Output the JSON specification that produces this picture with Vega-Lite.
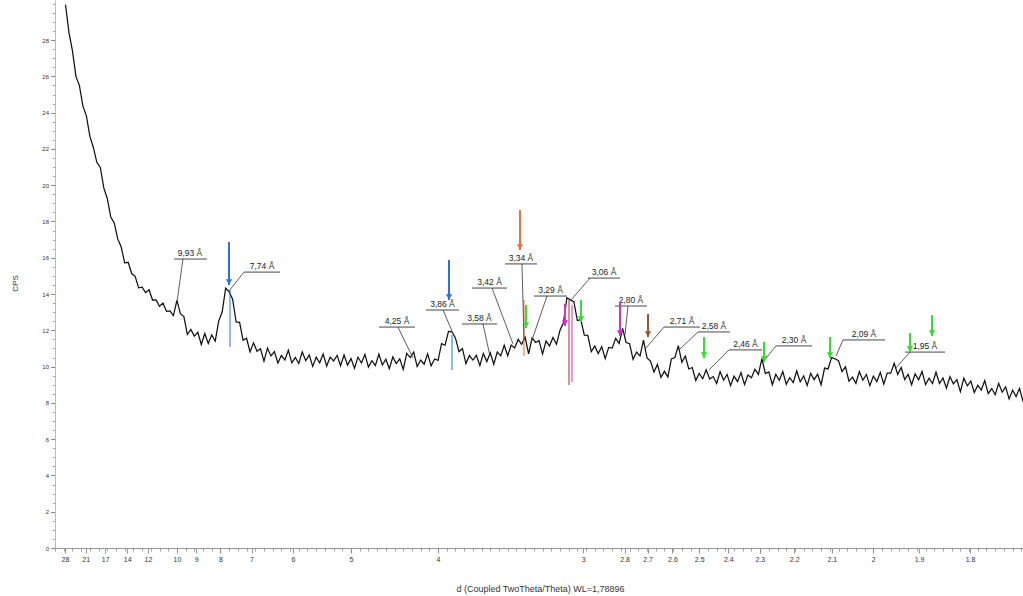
{
  "$schema": "https://vega.github.io/schema/vega-lite/v6.json",
  "autosize": "none",
  "width": 968,
  "height": 548,
  "padding": {"left": 55, "top": 0, "right": 0, "bottom": 48},
  "background": "white",
  "config": {"view": {"stroke": null}, "font": "Liberation Sans"},
  "datasets": {
    "curve": [
      {"q":0.036,"cps":29.95},{"q":0.038,"cps":28.41},{"q":0.040,"cps":27.41},{"q":0.042,"cps":26.00},{"q":0.044,"cps":25.49},
      {"q":0.046,"cps":24.36},{"q":0.048,"cps":23.82},{"q":0.050,"cps":22.69},{"q":0.052,"cps":22.08},{"q":0.054,"cps":21.26},
      {"q":0.056,"cps":20.98},{"q":0.058,"cps":19.85},{"q":0.060,"cps":19.27},{"q":0.062,"cps":18.24},{"q":0.064,"cps":17.92},
      {"q":0.066,"cps":17.04},{"q":0.068,"cps":16.59},{"q":0.070,"cps":15.72},{"q":0.072,"cps":15.75},{"q":0.074,"cps":15.13},
      {"q":0.076,"cps":14.98},{"q":0.078,"cps":14.34},{"q":0.080,"cps":14.38},{"q":0.082,"cps":14.08},{"q":0.084,"cps":14.24},
      {"q":0.086,"cps":13.67},{"q":0.088,"cps":13.68},{"q":0.090,"cps":13.33},{"q":0.092,"cps":13.50},{"q":0.094,"cps":13.05},
      {"q":0.096,"cps":13.07},{"q":0.098,"cps":12.81},{"q":0.100,"cps":13.65},{"q":0.102,"cps":12.92},{"q":0.104,"cps":12.76},
      {"q":0.106,"cps":11.77},{"q":0.108,"cps":12.05},{"q":0.110,"cps":11.68},{"q":0.112,"cps":11.89},{"q":0.114,"cps":11.22},
      {"q":0.116,"cps":11.82},{"q":0.118,"cps":11.27},{"q":0.120,"cps":11.75},{"q":0.122,"cps":11.40},{"q":0.124,"cps":12.51},
      {"q":0.126,"cps":13.02},{"q":0.128,"cps":14.33},{"q":0.130,"cps":14.12},{"q":0.132,"cps":13.72},{"q":0.134,"cps":12.46},
      {"q":0.136,"cps":12.44},{"q":0.138,"cps":11.45},{"q":0.140,"cps":11.56},{"q":0.142,"cps":10.81},{"q":0.144,"cps":11.31},
      {"q":0.146,"cps":10.84},{"q":0.148,"cps":10.98},{"q":0.150,"cps":10.30},{"q":0.152,"cps":11.02},{"q":0.154,"cps":10.59},
      {"q":0.156,"cps":10.83},{"q":0.158,"cps":10.20},{"q":0.160,"cps":10.61},{"q":0.162,"cps":10.37},{"q":0.164,"cps":10.90},
      {"q":0.166,"cps":10.21},{"q":0.168,"cps":10.50},{"q":0.170,"cps":10.17},{"q":0.172,"cps":10.81},{"q":0.174,"cps":10.33},
      {"q":0.176,"cps":10.64},{"q":0.178,"cps":10.01},{"q":0.180,"cps":10.52},{"q":0.182,"cps":10.21},{"q":0.184,"cps":10.70},
      {"q":0.186,"cps":10.03},{"q":0.188,"cps":10.52},{"q":0.190,"cps":10.31},{"q":0.192,"cps":10.62},{"q":0.194,"cps":10.05},
      {"q":0.196,"cps":10.64},{"q":0.198,"cps":10.08},{"q":0.200,"cps":10.44},{"q":0.202,"cps":9.91},{"q":0.204,"cps":10.52},
      {"q":0.206,"cps":10.20},{"q":0.208,"cps":10.67},{"q":0.210,"cps":9.97},{"q":0.212,"cps":10.33},{"q":0.214,"cps":10.06},
      {"q":0.216,"cps":10.69},{"q":0.218,"cps":10.09},{"q":0.220,"cps":10.41},{"q":0.222,"cps":9.88},{"q":0.224,"cps":10.53},
      {"q":0.226,"cps":10.17},{"q":0.228,"cps":10.43},{"q":0.230,"cps":9.85},{"q":0.232,"cps":10.73},{"q":0.234,"cps":10.50},
      {"q":0.236,"cps":10.80},{"q":0.238,"cps":10.00},{"q":0.240,"cps":10.36},{"q":0.242,"cps":10.13},{"q":0.244,"cps":10.70},
      {"q":0.246,"cps":10.04},{"q":0.248,"cps":10.42},{"q":0.250,"cps":10.34},{"q":0.252,"cps":11.27},{"q":0.254,"cps":11.18},
      {"q":0.256,"cps":11.94},{"q":0.258,"cps":11.92},{"q":0.260,"cps":11.57},{"q":0.262,"cps":10.83},{"q":0.264,"cps":10.99},
      {"q":0.266,"cps":10.17},{"q":0.268,"cps":10.61},{"q":0.270,"cps":10.36},{"q":0.272,"cps":10.62},{"q":0.274,"cps":10.06},
      {"q":0.276,"cps":10.72},{"q":0.278,"cps":10.28},{"q":0.280,"cps":10.76},{"q":0.282,"cps":10.13},{"q":0.284,"cps":10.80},
      {"q":0.286,"cps":10.59},{"q":0.288,"cps":11.18},{"q":0.290,"cps":10.60},{"q":0.292,"cps":11.19},{"q":0.294,"cps":11.03},
      {"q":0.296,"cps":11.50},{"q":0.298,"cps":11.23},{"q":0.300,"cps":11.62},{"q":0.302,"cps":10.70},{"q":0.304,"cps":11.58},
      {"q":0.306,"cps":11.33},{"q":0.308,"cps":11.43},{"q":0.310,"cps":10.69},{"q":0.312,"cps":11.41},{"q":0.314,"cps":11.14},
      {"q":0.316,"cps":11.61},{"q":0.318,"cps":11.23},{"q":0.320,"cps":11.99},{"q":0.322,"cps":12.42},{"q":0.324,"cps":13.80},
      {"q":0.326,"cps":13.68},{"q":0.328,"cps":13.58},{"q":0.330,"cps":12.54},{"q":0.332,"cps":12.59},{"q":0.334,"cps":11.73},
      {"q":0.336,"cps":11.72},{"q":0.338,"cps":10.83},{"q":0.340,"cps":11.13},{"q":0.342,"cps":10.72},{"q":0.344,"cps":11.10},
      {"q":0.346,"cps":10.44},{"q":0.348,"cps":11.06},{"q":0.350,"cps":11.02},{"q":0.352,"cps":11.56},{"q":0.354,"cps":11.28},
      {"q":0.356,"cps":12.10},{"q":0.358,"cps":11.33},{"q":0.360,"cps":11.26},{"q":0.362,"cps":10.40},{"q":0.364,"cps":10.80},
      {"q":0.366,"cps":10.59},{"q":0.368,"cps":11.46},{"q":0.370,"cps":10.48},{"q":0.372,"cps":10.30},{"q":0.374,"cps":9.70},
      {"q":0.376,"cps":10.12},{"q":0.378,"cps":9.41},{"q":0.380,"cps":9.74},{"q":0.382,"cps":9.43},{"q":0.384,"cps":10.42},
      {"q":0.386,"cps":10.50},{"q":0.388,"cps":11.15},{"q":0.390,"cps":10.24},{"q":0.392,"cps":10.58},{"q":0.394,"cps":9.87},
      {"q":0.396,"cps":9.95},{"q":0.398,"cps":9.24},{"q":0.400,"cps":9.62},{"q":0.402,"cps":9.33},{"q":0.404,"cps":9.83},
      {"q":0.406,"cps":9.31},{"q":0.408,"cps":9.45},{"q":0.410,"cps":9.07},{"q":0.412,"cps":9.72},{"q":0.414,"cps":9.25},
      {"q":0.416,"cps":9.57},{"q":0.418,"cps":8.95},{"q":0.420,"cps":9.47},{"q":0.422,"cps":9.17},{"q":0.424,"cps":9.67},
      {"q":0.426,"cps":9.01},{"q":0.428,"cps":9.54},{"q":0.430,"cps":9.39},{"q":0.432,"cps":9.85},{"q":0.434,"cps":9.57},
      {"q":0.436,"cps":10.44},{"q":0.438,"cps":9.62},{"q":0.440,"cps":9.71},{"q":0.442,"cps":9.00},{"q":0.444,"cps":9.58},
      {"q":0.446,"cps":9.25},{"q":0.448,"cps":9.73},{"q":0.450,"cps":9.02},{"q":0.452,"cps":9.39},{"q":0.454,"cps":9.12},
      {"q":0.456,"cps":9.76},{"q":0.458,"cps":9.16},{"q":0.460,"cps":9.49},{"q":0.462,"cps":8.96},{"q":0.464,"cps":9.63},
      {"q":0.466,"cps":9.28},{"q":0.468,"cps":9.58},{"q":0.470,"cps":9.00},{"q":0.472,"cps":9.92},{"q":0.474,"cps":9.87},
      {"q":0.476,"cps":10.50},{"q":0.478,"cps":10.43},{"q":0.480,"cps":10.33},{"q":0.482,"cps":9.72},{"q":0.484,"cps":9.99},
      {"q":0.486,"cps":9.20},{"q":0.488,"cps":9.42},{"q":0.490,"cps":9.08},{"q":0.492,"cps":9.72},{"q":0.494,"cps":9.25},
      {"q":0.496,"cps":9.57},{"q":0.498,"cps":8.95},{"q":0.500,"cps":9.47},{"q":0.502,"cps":9.17},{"q":0.504,"cps":9.68},
      {"q":0.506,"cps":9.04},{"q":0.508,"cps":9.64},{"q":0.510,"cps":9.64},{"q":0.512,"cps":10.18},{"q":0.514,"cps":9.57},
      {"q":0.516,"cps":9.95},{"q":0.518,"cps":9.29},{"q":0.520,"cps":9.57},{"q":0.522,"cps":9.00},{"q":0.524,"cps":9.60},
      {"q":0.526,"cps":9.27},{"q":0.528,"cps":9.73},{"q":0.530,"cps":9.01},{"q":0.532,"cps":9.36},{"q":0.534,"cps":9.07},
      {"q":0.536,"cps":9.69},{"q":0.538,"cps":9.07},{"q":0.540,"cps":9.37},{"q":0.542,"cps":8.81},{"q":0.544,"cps":9.44},
      {"q":0.546,"cps":9.05},{"q":0.548,"cps":9.28},{"q":0.550,"cps":8.62},{"q":0.552,"cps":9.36},{"q":0.554,"cps":8.94},
      {"q":0.556,"cps":9.20},{"q":0.558,"cps":8.57},{"q":0.560,"cps":8.97},{"q":0.562,"cps":8.71},{"q":0.564,"cps":9.23},
      {"q":0.566,"cps":8.52},{"q":0.568,"cps":8.79},{"q":0.570,"cps":8.45},{"q":0.572,"cps":9.08},{"q":0.574,"cps":8.59},
      {"q":0.576,"cps":8.88},{"q":0.578,"cps":8.22},{"q":0.580,"cps":8.70},{"q":0.582,"cps":8.35},{"q":0.584,"cps":8.80},
      {"q":0.586,"cps":8.07}
    ],
    "labels": [
      {"label":"9,93 Å","q":0.10751,"q_u1":0.09832,"q_u2":0.11727,"cps_u":15.93,"q_s":0.10349,"q_p":0.10004,"cps_p":13.56},
      {"label":"7,74 Å","q":0.14887,"q_u1":0.13853,"q_u2":0.15920,"cps_u":15.21,"q_s":0.13853,"q_p":0.12991,"cps_p":14.17},
      {"label":"4,25 Å","q":0.22641,"q_u1":0.21607,"q_u2":0.23675,"cps_u":12.18,"q_s":0.22698,"q_p":0.23560,"cps_p":10.47},
      {"label":"3,86 Å","q":0.25254,"q_u1":0.24306,"q_u2":0.26202,"cps_u":13.12,"q_s":0.25283,"q_p":0.25800,"cps_p":11.96},
      {"label":"3,58 Å","q":0.27379,"q_u1":0.26374,"q_u2":0.28385,"cps_u":12.35,"q_s":0.27580,"q_p":0.27982,"cps_p":10.58},
      {"label":"3,42 Å","q":0.27954,"q_u1":0.26949,"q_u2":0.28959,"cps_u":14.33,"q_s":0.28097,"q_p":0.29304,"cps_p":11.25},
      {"label":"3,34 Å","q":0.29763,"q_u1":0.28844,"q_u2":0.30682,"cps_u":15.66,"q_s":0.29820,"q_p":0.29935,"cps_p":11.47},
      {"label":"3,29 Å","q":0.31458,"q_u1":0.30510,"q_u2":0.32405,"cps_u":13.89,"q_s":0.31256,"q_p":0.30337,"cps_p":11.30},
      {"label":"3,06 Å","q":0.34531,"q_u1":0.33611,"q_u2":0.35449,"cps_u":14.88,"q_s":0.33726,"q_p":0.32635,"cps_p":13.67},
      {"label":"2,80 Å","q":0.36081,"q_u1":0.35162,"q_u2":0.37000,"cps_u":13.34,"q_s":0.35909,"q_p":0.35737,"cps_p":11.74},
      {"label":"2,71 Å","q":0.39011,"q_u1":0.37977,"q_u2":0.40044,"cps_u":12.18,"q_s":0.37977,"q_p":0.36943,"cps_p":11.03},
      {"label":"2,58 Å","q":0.40848,"q_u1":0.39930,"q_u2":0.41768,"cps_u":11.91,"q_s":0.39930,"q_p":0.38838,"cps_p":10.92},
      {"label":"2,46 Å","q":0.42658,"q_u1":0.41710,"q_u2":0.43606,"cps_u":10.92,"q_s":0.41710,"q_p":0.40561,"cps_p":9.81},
      {"label":"2,30 Å","q":0.45444,"q_u1":0.44410,"q_u2":0.46477,"cps_u":11.14,"q_s":0.44410,"q_p":0.43606,"cps_p":10.20},
      {"label":"2,09 Å","q":0.49464,"q_u1":0.48258,"q_u2":0.50671,"cps_u":11.47,"q_s":0.48258,"q_p":0.47856,"cps_p":10.58},
      {"label":"1,95 Å","q":0.52968,"q_u1":0.51819,"q_u2":0.54117,"cps_u":10.80,"q_s":0.52106,"q_p":0.51245,"cps_p":9.87}
    ],
    "arrows": [
      {"phase":"A","q":0.12991,"top":16.87,"tip":14.50},
      {"phase":"A","q":0.25628,"top":15.88,"tip":13.67},
      {"phase":"B","q":0.29706,"top":18.63,"tip":16.43},
      {"phase":"C","q":0.30050,"top":13.40,"tip":12.13},
      {"phase":"D","q":0.32290,"top":13.45,"tip":12.24},
      {"phase":"C","q":0.33209,"top":13.67,"tip":12.46},
      {"phase":"D","q":0.35449,"top":13.56,"tip":11.69},
      {"phase":"E","q":0.37058,"top":12.90,"tip":11.63},
      {"phase":"C","q":0.40274,"top":11.63,"tip":10.47},
      {"phase":"C","q":0.43720,"top":11.36,"tip":10.25},
      {"phase":"C","q":0.47511,"top":11.63,"tip":10.47},
      {"phase":"C","q":0.52106,"top":11.85,"tip":10.80},
      {"phase":"C","q":0.53370,"top":12.84,"tip":11.69}
    ],
    "sticks": [
      {"phase":"A","q":0.13049,"top":14.22,"bottom":11.08},
      {"phase":"A","q":0.25800,"top":11.74,"bottom":9.81},
      {"phase":"B","q":0.29935,"top":13.67,"bottom":10.58},
      {"phase":"F","q":0.32520,"top":13.67,"bottom":8.99},
      {"phase":"D","q":0.32692,"top":13.40,"bottom":9.15}
    ]
  },
  "layer": [
    {
      "data": {"name": "curve"},
      "mark": {"type": "line", "strokeOpacity": 0},
      "encoding": {
        "x": {"field": "q", "type": "quantitative",
          "scale": {"domain": [0.02997, 0.58597], "nice": false, "zero": false},
          "axis": {"orient": "bottom", "values": [0.03,0.035,0.04,0.045,0.05,0.055,0.06,0.065,0.07,0.075,0.08,0.085,0.09,0.095,0.1,0.105,0.11,0.115,0.12,0.125,0.13,0.135,0.14,0.145,0.15,0.155,0.16,0.165,0.17,0.175,0.18,0.185,0.19,0.195,0.2,0.205,0.21,0.215,0.22,0.225,0.23,0.235,0.24,0.245,0.25,0.255,0.26,0.265,0.27,0.275,0.28,0.285,0.29,0.295,0.3,0.305,0.31,0.315,0.32,0.325,0.33,0.335,0.34,0.345,0.35,0.355,0.36,0.365,0.37,0.375,0.38,0.385,0.39,0.395,0.4,0.405,0.41,0.415,0.42,0.425,0.43,0.435,0.44,0.445,0.45,0.455,0.46,0.465,0.47,0.475,0.48,0.485,0.49,0.495,0.5,0.505,0.51,0.515,0.52,0.525,0.53,0.535,0.54,0.545,0.55,0.555,0.56,0.565,0.57,0.575,0.58,0.585],
            "labels": false, "domain": false, "grid": false, "title": null, "tickSize": 3, "tickColor": "#888", "tickWidth": 0.8}},
        "y": {"field": "cps", "type": "quantitative",
          "scale": {"domain": [0, 30.21], "nice": false, "zero": false},
          "axis": {"orient": "left", "values": [0,0.5,1,1.5,2,2.5,3,3.5,4,4.5,5,5.5,6,6.5,7,7.5,8,8.5,9,9.5,10,10.5,11,11.5,12,12.5,13,13.5,14,14.5,15,15.5,16,16.5,17,17.5,18,18.5,19,19.5,20,20.5,21,21.5,22,22.5,23,23.5,24,24.5,25,25.5,26,26.5,27,27.5,28,28.5,29,29.5,30],
            "labels": false, "domain": false, "grid": false, "title": null, "tickSize": 2.5, "tickColor": "#888", "tickWidth": 0.8}}
      }
    },
    {
      "data": {"name": "curve"},
      "mark": {"type": "line", "color": "#111", "strokeWidth": 1.25},
      "encoding": {
        "x": {"field": "q", "type": "quantitative",
          "scale": {"domain": [0.02997, 0.58597], "nice": false, "zero": false},
          "axis": {"orient": "bottom",
            "values": [0.0357142857,0.0476190476,0.0588235294,0.0714285714,0.0833333333,0.1,0.1111111111,0.125,0.1428571429,0.1666666667,0.2,0.25,0.3333333333,0.3571428571,0.3703703704,0.3846153846,0.4,0.4166666667,0.4347826087,0.4545454545,0.4761904762,0.5,0.5263157895,0.5555555556],
            "labelExpr": "format(1/datum.value, '.2~r')",
            "labelOverlap": false, "labelFlush": false, "labelBound": false,
            "labelFont": "Liberation Sans", "labelFontSize": 7, "labelColor": "#333", "labelPadding": 2,
            "tickSize": 5, "tickColor": "#777", "tickWidth": 0.8,
            "domainColor": "#999", "domainWidth": 1, "grid": false,
            "title": "d (Coupled TwoTheta/Theta) WL=1,78896",
            "titleFont": "Liberation Sans", "titleFontSize": 9, "titleFontWeight": "normal", "titleColor": "#333",
            "titleX": 485, "titleY": 40, "titleBaseline": "middle", "titleAnchor": null}},
        "y": {"field": "cps", "type": "quantitative",
          "scale": {"domain": [0, 30.21], "nice": false, "zero": false},
          "axis": {"orient": "left", "values": [0,2,4,6,8,10,12,14,16,18,20,22,24,26,28],
            "labelFont": "Liberation Sans", "labelFontSize": 6, "labelColor": "#333", "labelPadding": 2,
            "labelOverlap": false, "labelBound": false, "labelFlush": false,
            "tickSize": 4.5, "tickColor": "#777", "tickWidth": 0.8,
            "domainColor": "#bbb", "domainWidth": 1, "grid": false,
            "title": "CPS", "titleFont": "Liberation Sans", "titleFontSize": 8, "titleFontWeight": "normal", "titleColor": "#333",
            "titleX": -40, "titleY": 283, "titleAngle": -90, "titleBaseline": "middle", "titleAlign": "center"}}
      }
    },
    {
      "data": {"name": "sticks"},
      "mark": {"type": "rule", "strokeWidth": 1.2, "opacity": 0.85},
      "encoding": {
        "x": {"field": "q", "type": "quantitative", "scale": {"domain": [0.02997, 0.58597], "nice": false, "zero": false}, "axis": null},
        "y": {"field": "top", "type": "quantitative", "scale": {"domain": [0, 30.21], "nice": false, "zero": false}, "axis": null},
        "y2": {"field": "bottom"},
        "color": {"field": "phase", "type": "nominal", "legend": null,
          "scale": {"domain": ["A","B","C","D","E","F"], "range": ["#2f6fdc","#e8703a","#33dd33","#cc33cc","#a0522d","#cc2222"]}}
      }
    },
    {
      "data": {"name": "labels"},
      "mark": {"type": "rule", "color": "#333", "strokeWidth": 0.8},
      "encoding": {
        "x": {"field": "q_s", "type": "quantitative", "scale": {"domain": [0.02997, 0.58597], "nice": false, "zero": false}, "axis": null},
        "y": {"field": "cps_u", "type": "quantitative", "scale": {"domain": [0, 30.21], "nice": false, "zero": false}, "axis": null},
        "x2": {"field": "q_p"},
        "y2": {"field": "cps_p"}
      }
    },
    {
      "data": {"name": "labels"},
      "mark": {"type": "rule", "color": "#333", "strokeWidth": 0.9},
      "encoding": {
        "x": {"field": "q_u1", "type": "quantitative", "scale": {"domain": [0.02997, 0.58597], "nice": false, "zero": false}, "axis": null},
        "x2": {"field": "q_u2"},
        "y": {"field": "cps_u", "type": "quantitative", "scale": {"domain": [0, 30.21], "nice": false, "zero": false}, "axis": null}
      }
    },
    {
      "data": {"name": "labels"},
      "mark": {"type": "text", "font": "Liberation Sans", "fontSize": 8.5, "color": "#222", "baseline": "bottom", "align": "center", "dy": -1},
      "encoding": {
        "x": {"field": "q", "type": "quantitative", "scale": {"domain": [0.02997, 0.58597], "nice": false, "zero": false}, "axis": null},
        "y": {"field": "cps_u", "type": "quantitative", "scale": {"domain": [0, 30.21], "nice": false, "zero": false}, "axis": null},
        "text": {"field": "label"}
      }
    },
    {
      "data": {"name": "arrows"},
      "mark": {"type": "rule", "strokeWidth": 2},
      "encoding": {
        "x": {"field": "q", "type": "quantitative", "scale": {"domain": [0.02997, 0.58597], "nice": false, "zero": false}, "axis": null},
        "y": {"field": "top", "type": "quantitative", "scale": {"domain": [0, 30.21], "nice": false, "zero": false}, "axis": null},
        "y2": {"field": "tip"},
        "color": {"field": "phase", "type": "nominal", "legend": null,
          "scale": {"domain": ["A","B","C","D","E","F"], "range": ["#2f6fdc","#e8703a","#33dd33","#cc33cc","#a0522d","#cc2222"]}}
      }
    },
    {
      "data": {"name": "arrows"},
      "mark": {"type": "point", "shape": "triangle-down", "filled": true, "size": 40, "opacity": 1, "yOffset": -3},
      "encoding": {
        "x": {"field": "q", "type": "quantitative", "scale": {"domain": [0.02997, 0.58597], "nice": false, "zero": false}, "axis": null},
        "y": {"field": "tip", "type": "quantitative", "scale": {"domain": [0, 30.21], "nice": false, "zero": false}, "axis": null},
        "color": {"field": "phase", "type": "nominal", "legend": null,
          "scale": {"domain": ["A","B","C","D","E","F"], "range": ["#2f6fdc","#e8703a","#33dd33","#cc33cc","#a0522d","#cc2222"]}}
      }
    }
  ],
  "resolve": {"axis": {"x": "independent", "y": "independent"}}
}
